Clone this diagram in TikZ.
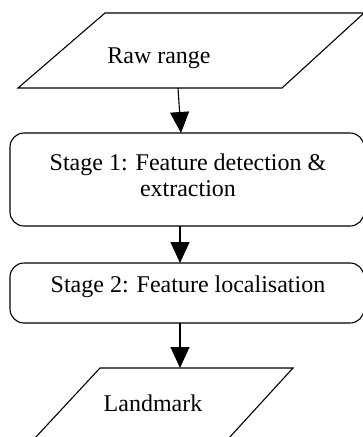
\documentclass[tikz,border=0pt]{standalone}
\usepackage{fontspec}
\setmainfont{Liberation Serif}
\usetikzlibrary{arrows.meta}
\begin{document}
\begin{tikzpicture}[x=1pt,y=-1pt,
  shapeline/.style={draw=black,line width=1.1pt},
  lbl/.style={font=\fontsize{24}{28}\selectfont,text=black,inner sep=0pt},
  conn/.style={draw=black,line width=1.1pt,-{Triangle[length=21pt,width=19pt]}},
  stagebox/.style={shapeline,rounded corners=14pt}]
\useasboundingbox (0,0) rectangle (363,437);
% Raw range parallelogram
\coordinate (p1a) at (105,13);
\coordinate (p1b) at (364,13);
\coordinate (p1c) at (282,88);
\coordinate (p1d) at (18,88);
\draw[shapeline] (p1a) -- (p1b) -- (p1c) -- (p1d) -- cycle;
\node[lbl] (raw) at (159,58) {Raw range};
\coordinate (p1out) at (178,88);
% Stage 1 box
\draw[stagebox] (10,133) rectangle (364,226);
\coordinate (s1in) at (181,133);
\coordinate (s1out) at (180,226);
\node[lbl,align=center] (s1) at (188,175) {Stage 1: Feature detection \&\\[-2pt]extraction};
% Stage 2 box
\draw[stagebox] (10,263) rectangle (364,323);
\coordinate (s2in) at (180,263);
\coordinate (s2out) at (180,323);
\node[lbl] (s2) at (188,287) {Stage 2: Feature localisation};
% Landmark parallelogram
\coordinate (p2a) at (100,368);
\coordinate (p2b) at (293,368);
\coordinate (p2c) at (229,438);
\coordinate (p2d) at (35,438);
\draw[shapeline] (p2a) -- (p2b) -- (p2c) -- (p2d) -- cycle;
\node[lbl] (land) at (153,403) {Landmark};
\coordinate (p2in) at (180,368);
% connectors
\draw[conn] (p1out) -- (s1in);
\draw[conn] (s1out) -- (s2in);
\draw[conn] (s2out) -- (p2in);
\end{tikzpicture}
\end{document}
